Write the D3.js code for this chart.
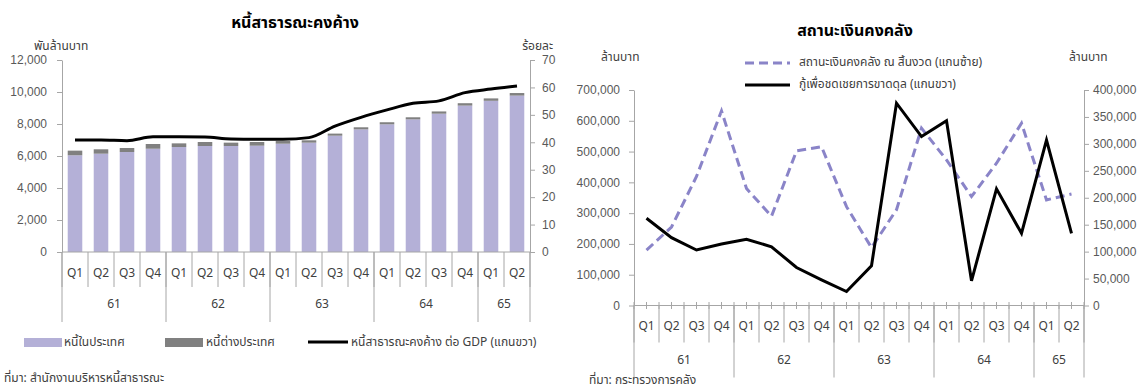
<!DOCTYPE html>
<html>
<head>
<meta charset="utf-8">
<script src="https://cdn.jsdelivr.net/npm/d3@7"></script>
<style>
  html, body { margin: 0; padding: 0; background: #fff; }
  svg { display: block; font-family: Tahoma, "Noto Sans Thai", "Noto Sans", sans-serif; }
  .tick text { fill: #595959; font-size: 12px; }
  .axis path, .axis line { stroke: #a6a6a6; }
</style>
</head>
<body>
<svg id="chart" width="1141" height="390"></svg>
<script>
// Quarter categories shared by both panels
const quarters = ["Q1","Q2","Q3","Q4","Q1","Q2","Q3","Q4","Q1","Q2","Q3","Q4","Q1","Q2","Q3","Q4","Q1","Q2"];
const yearLabels = ["61","62","63","64","65"];
const yearSpans = [4, 4, 4, 4, 2];

// Outstanding public debt (billion baht) and debt to GDP (%)
const domesticDebt = [6045, 6145, 6250, 6455, 6560, 6625, 6625, 6645, 6770, 6835, 7270, 7665, 7980, 8290, 8645, 9150, 9450, 9775];
const foreignDebt  = [290, 275, 250, 295, 230, 250, 210, 230, 165, 145, 130, 130, 130, 130, 140, 150, 150, 160];
const debtToGdp    = [40.8, 40.8, 40.6, 42.0, 42.0, 41.9, 41.2, 41.1, 41.1, 41.7, 45.9, 49.1, 51.8, 54.2, 55.1, 58.1, 59.4, 60.5];
const debtTicks = [0, 2000, 4000, 6000, 8000, 10000, 12000];
const pctTicks  = [0, 10, 20, 30, 40, 50, 60, 70];

// Treasury balance and deficit borrowing (million baht)
const treasuryBalance  = [180000, 255000, 419000, 632000, 380000, 290000, 502000, 516000, 321000, 188000, 311000, 576000, 473000, 354000, 462000, 592000, 343000, 362000];
const deficitBorrowing = [162000, 126000, 103000, 114000, 123000, 109000, 70500, 47700, 26000, 73700, 375500, 313500, 343000, 45800, 216500, 134000, 307000, 134000];
const balanceTicks   = [0, 100000, 200000, 300000, 400000, 500000, 600000, 700000];
const borrowingTicks = [0, 50000, 100000, 150000, 200000, 250000, 300000, 350000, 400000];

const svg = d3.select("#chart");
const fmt = d3.format(",");
const textColor = "#404040";
const axisColor = "#a6a6a6";

// Two-level category axis: quarter row and year row with separators
function categoryAxis(g, x, y0, qRowH, yearRowH, qLabelY, yearLabelY) {
  const step = x.step();
  const x0 = x.range()[0];
  // quarter separators
  g.selectAll(".qsep").data(d3.range(quarters.length + 1)).join("line")
    .attr("x1", i => x0 + i * step).attr("x2", i => x0 + i * step)
    .attr("y1", y0).attr("y2", y0 + qRowH)
    .attr("stroke", axisColor);
  // year separators
  const bounds = [0];
  yearSpans.forEach(s => bounds.push(bounds[bounds.length - 1] + s));
  g.selectAll(".ysep").data(bounds).join("line")
    .attr("x1", i => x0 + i * step).attr("x2", i => x0 + i * step)
    .attr("y1", y0).attr("y2", y0 + yearRowH)
    .attr("stroke", axisColor);
  g.selectAll(".qlab").data(quarters).join("text")
    .attr("x", (d, i) => x(i) + x.bandwidth() / 2)
    .attr("y", qLabelY)
    .attr("text-anchor", "middle").attr("dominant-baseline", "middle")
    .attr("font-size", 12).attr("fill", textColor)
    .text(d => d);
  g.selectAll(".ylab").data(yearLabels).join("text")
    .attr("x", (d, i) => x0 + (bounds[i] + bounds[i + 1]) / 2 * step)
    .attr("y", yearLabelY)
    .attr("text-anchor", "middle").attr("dominant-baseline", "middle")
    .attr("font-size", 12).attr("fill", textColor)
    .text(d => d);
}

/* ---------------- Left panel: outstanding public debt ---------------- */
{
  const g = svg.append("g");
  const x = d3.scaleBand().domain(d3.range(quarters.length)).range([62, 530]).paddingInner(0).paddingOuter(0);
  const yL = d3.scaleLinear().domain([0, 12000]).range([252, 60]);
  const yR = d3.scaleLinear().domain([0, 70]).range([252, 60]);
  const barW = x.step() * 0.56;

  g.append("text").attr("x", 295).attr("y", 28).attr("text-anchor", "middle")
    .attr("font-size", 16).attr("font-weight", "bold").attr("fill", "#000")
    .text("หนี้สาธารณะคงค้าง");
  g.append("text").attr("x", 34).attr("y", 50).attr("font-size", 12).attr("fill", textColor).text("พันล้านบาท");
  g.append("text").attr("x", 553).attr("y", 50).attr("text-anchor", "end").attr("font-size", 12).attr("fill", textColor).text("ร้อยละ");

  g.append("g").attr("class", "axis").attr("transform", "translate(62,0)")
    .call(d3.axisLeft(yL).tickValues(debtTicks).tickFormat(fmt).tickSize(5).tickSizeOuter(0).tickPadding(10));
  g.append("g").attr("class", "axis").attr("transform", "translate(530,0)")
    .call(d3.axisRight(yR).tickValues(pctTicks).tickSize(5).tickSizeOuter(0).tickPadding(7));

  const cx = i => x(i) + x.bandwidth() / 2;
  // domestic debt
  g.selectAll(".dom").data(domesticDebt).join("rect")
    .attr("x", (d, i) => cx(i) - barW / 2).attr("width", barW)
    .attr("y", d => yL(d)).attr("height", d => yL(0) - yL(d))
    .attr("fill", "#b4b0d7");
  // foreign debt stacked on top
  g.selectAll(".for").data(foreignDebt).join("rect")
    .attr("x", (d, i) => cx(i) - barW / 2).attr("width", barW)
    .attr("y", (d, i) => yL(domesticDebt[i] + d)).attr("height", (d, i) => yL(domesticDebt[i]) - yL(domesticDebt[i] + d))
    .attr("fill", "#808080");

  // baseline
  g.append("line").attr("x1", 62).attr("x2", 530).attr("y1", 252).attr("y2", 252).attr("stroke", axisColor);
  categoryAxis(g, x, 252, 35, 70, 274, 305);

  g.append("path").datum(debtToGdp)
    .attr("fill", "none").attr("stroke", "#000").attr("stroke-width", 3).attr("stroke-linejoin", "round")
    .attr("d", d3.line().x((d, i) => cx(i)).y(d => yR(d)).curve(d3.curveMonotoneX));

  // legend
  const lg = g.append("g");
  lg.append("rect").attr("x", 24).attr("y", 338).attr("width", 38).attr("height", 9).attr("fill", "#b4b0d7");
  lg.append("text").attr("x", 64).attr("y", 343).attr("dominant-baseline", "middle").attr("font-size", 12).attr("fill", textColor).text("หนี้ในประเทศ");
  lg.append("rect").attr("x", 165).attr("y", 338).attr("width", 38).attr("height", 9).attr("fill", "#808080");
  lg.append("text").attr("x", 206).attr("y", 343).attr("dominant-baseline", "middle").attr("font-size", 12).attr("fill", textColor).text("หนี้ต่างประเทศ");
  lg.append("line").attr("x1", 308).attr("x2", 348).attr("y1", 342).attr("y2", 342).attr("stroke", "#000").attr("stroke-width", 3);
  lg.append("text").attr("x", 351).attr("y", 343).attr("dominant-baseline", "middle").attr("font-size", 12).attr("fill", textColor).text("หนี้สาธารณะคงค้าง ต่อ GDP (แกนขวา)");

  g.append("text").attr("x", 4).attr("y", 382).attr("font-size", 12).attr("fill", textColor).text("ที่มา: สำนักงานบริหารหนี้สาธารณะ");
}

/* ---------------- Right panel: treasury balance ---------------- */
{
  const g = svg.append("g");
  const x = d3.scaleBand().domain(d3.range(quarters.length)).range([634, 1084]);
  const yL = d3.scaleLinear().domain([0, 700000]).range([305.5, 90]);
  const yR = d3.scaleLinear().domain([0, 400000]).range([305.5, 90]);
  const cx = i => x(i) + x.bandwidth() / 2;

  g.append("text").attr("x", 855).attr("y", 36).attr("text-anchor", "middle")
    .attr("font-size", 16).attr("font-weight", "bold").attr("fill", "#000")
    .text("สถานะเงินคงคลัง");
  g.append("text").attr("x", 601).attr("y", 61).attr("font-size", 12).attr("fill", textColor).text("ล้านบาท");
  g.append("text").attr("x", 1069).attr("y", 61).attr("font-size", 12).attr("fill", textColor).text("ล้านบาท");

  g.append("g").attr("class", "axis").attr("transform", "translate(634,0)")
    .call(d3.axisLeft(yL).tickValues(balanceTicks).tickFormat(fmt).tickSize(5).tickSizeOuter(0).tickPadding(9));
  g.append("g").attr("class", "axis").attr("transform", "translate(1084,0)")
    .call(d3.axisRight(yR).tickValues(borrowingTicks).tickFormat(fmt).tickSize(5).tickSizeOuter(0).tickPadding(4));

  // category axis line with half-step ticks
  g.append("line").attr("x1", 634).attr("x2", 1084).attr("y1", 305.5).attr("y2", 305.5).attr("stroke", axisColor);
  g.selectAll(".htick").data(d3.range(quarters.length * 2 + 1)).join("line")
    .attr("x1", k => 634 + k * x.step() / 2).attr("x2", k => 634 + k * x.step() / 2)
    .attr("y1", 302).attr("y2", 309).attr("stroke", axisColor);
  categoryAxis(g, x, 305.5, 37, 72, 327, 361);

  g.append("path").datum(treasuryBalance)
    .attr("fill", "none").attr("stroke", "#8a84c8").attr("stroke-width", 3).attr("stroke-dasharray", "9,5")
    .attr("d", d3.line().x((d, i) => cx(i)).y(d => yL(d)));
  g.append("path").datum(deficitBorrowing)
    .attr("fill", "none").attr("stroke", "#000").attr("stroke-width", 3).attr("stroke-linejoin", "miter")
    .attr("d", d3.line().x((d, i) => cx(i)).y(d => yR(d)));

  // legend
  const lg = g.append("g");
  lg.append("line").attr("x1", 745).attr("x2", 790).attr("y1", 63).attr("y2", 63)
    .attr("stroke", "#8a84c8").attr("stroke-width", 3).attr("stroke-dasharray", "9,5");
  lg.append("text").attr("x", 799).attr("y", 63).attr("dominant-baseline", "middle").attr("font-size", 12).attr("fill", textColor).text("สถานะเงินคงคลัง ณ สิ้นงวด (แกนซ้าย)");
  lg.append("line").attr("x1", 745).attr("x2", 790).attr("y1", 85).attr("y2", 85).attr("stroke", "#000").attr("stroke-width", 3);
  lg.append("text").attr("x", 799).attr("y", 85).attr("dominant-baseline", "middle").attr("font-size", 12).attr("fill", textColor).text("กู้เพื่อชดเชยการขาดดุล (แกนขวา)");

  g.append("text").attr("x", 589).attr("y", 384).attr("font-size", 12).attr("fill", textColor).text("ที่มา: กระทรวงการคลัง");
}
</script>
</body>
</html>
